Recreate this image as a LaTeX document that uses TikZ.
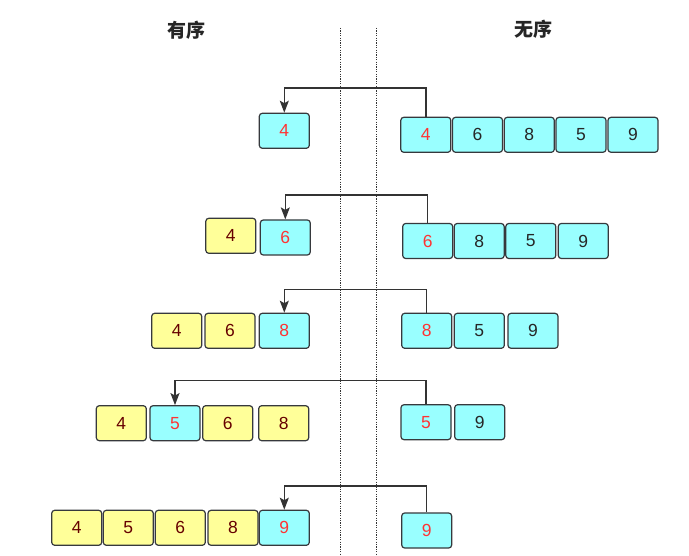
\documentclass[tikz,border=0pt]{standalone}
\usepackage{fontspec}
\setmainfont{Liberation Sans}
\newfontfamily\cjk{Noto Sans CJK SC}
\usetikzlibrary{arrows.meta}
\definecolor{cyanfill}{HTML}{99FFFF}
\definecolor{yelfill}{HTML}{FFFF99}
\definecolor{boxline}{HTML}{36393D}
\definecolor{hired}{HTML}{FF3333}
\definecolor{darkred}{HTML}{660000}
\definecolor{arrowc}{HTML}{333333}
\tikzset{
  cell/.style={draw=boxline, line width=1.2pt, rounded corners=3pt, minimum width=50pt, minimum height=35pt, inner sep=0pt, font=\fontsize{17.5}{17.5}\selectfont},
  cy/.style={cell, fill=cyanfill, text=black!85},
  cyh/.style={cell, fill=cyanfill, text=hired},
  ye/.style={cell, fill=yelfill, text=darkred},
  arr/.style={draw=arrowc, line width=1.5pt, -{Stealth[length=12pt,width=9pt,inset=2.5pt]}},
  sep/.style={draw=arrowc, line width=1pt, dash pattern=on 1.2pt off 1.2pt},
  title/.style={font=\cjk\bfseries\fontsize{19}{19}\selectfont, text=black!85}
}
\begin{document}
\begin{tikzpicture}[x=1pt,y=-1pt]
\useasboundingbox[fill=white] (0,0) rectangle (689,556);
% titles
\node[title] (t1) at (186.7,30.5) {有序};
\node[title] (t2) at (533.3,29) {无序};
% separators
\coordinate (s1a) at (340,28);
\coordinate (s1b) at (340,556);
\coordinate (s2a) at (376.7,28);
\coordinate (s2b) at (376.7,556);
\draw[sep] (s1a) -- (s1b);
\draw[sep] (s2a) -- (s2b);
% row 1
\node[cyh] (a1) at (284.3,130.8) {4};
\node[cyh] (b1) at (425.8,134.8) {4};
\node[cy]  (b2) at (477.5,134.8) {6};
\node[cy]  (b3) at (529.3,134.8) {8};
\node[cy]  (b4) at (581,134.8) {5};
\node[cy]  (b5) at (633,134.8) {9};
\draw[arr] (b1.north) -- ++(0,-28.5) -| (a1.north);
% row 2
\node[ye]  (c1) at (230.8,235.8) {4};
\node[cyh] (c2) at (285.3,237.5) {6};
\node[cyh] (d1) at (427.7,241) {6};
\node[cy]  (d2) at (479.2,241) {8};
\node[cy]  (d3) at (530.8,241) {5};
\node[cy]  (d4) at (583.3,241) {9};
\draw[arr] (d1.north) -- ++(0,-27.8) -| (c2.north);
% row 3
\node[ye]  (e1) at (176.7,330.8) {4};
\node[ye]  (e2) at (230,330.8) {6};
\node[cyh] (e3) at (284.3,330.8) {8};
\node[cyh] (f1) at (426.7,330.8) {8};
\node[cy]  (f2) at (479.3,330.8) {5};
\node[cy]  (f3) at (533,330.8) {9};
\draw[arr] (f1.north) -- ++(0,-23.3) -| (e3.north);
% row 4
\node[ye]  (g1) at (121.3,423.2) {4};
\node[cyh] (g2) at (175,423.2) {5};
\node[ye]  (g3) at (227.7,423.2) {6};
\node[ye]  (g4) at (283.7,423.2) {8};
\node[cyh] (h1) at (426,422.2) {5};
\node[cy]  (h2) at (479.7,422.2) {9};
\draw[arr] (h1.north) -- ++(0,-23.7) -| (g2.north);
% row 5
\node[ye]  (i1) at (76.7,527.8) {4};
\node[ye]  (i2) at (128.3,527.8) {5};
\node[ye]  (i3) at (180.3,527.8) {6};
\node[ye]  (i4) at (233,527.8) {8};
\node[cyh] (i5) at (284.3,527.8) {9};
\node[cyh] (j1) at (426.7,530.5) {9};
\draw[arr] (j1.north) -- ++(0,-26.6) -| (i5.north);
\end{tikzpicture}
\end{document}
